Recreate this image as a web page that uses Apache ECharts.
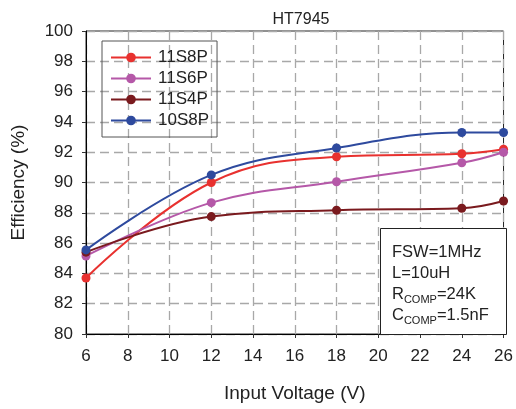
<!DOCTYPE html>
<html>
<head>
<meta charset="utf-8">
<script src="https://cdn.jsdelivr.net/npm/echarts@6/dist/echarts.min.js"></script>
<style>
  html, body { margin: 0; padding: 0; background: #fff; }
  #chart { width: 516px; height: 409px; }
</style>
</head>
<body>
<div id="chart"></div>
<script>
// input voltage points (V)
const voltage = [6, 12, 18, 24, 26];
// efficiency (%) per configuration
const eff11S8P = [83.7, 90.0, 91.7, 91.9, 92.2];
const eff11S6P = [85.15, 88.67, 90.05, 91.3, 92.0];
const eff11S4P = [85.4, 87.75, 88.17, 88.3, 88.78];
const eff10S8P = [85.55, 90.5, 92.28, 93.3, 93.3];

const seriesNames = ["11S8P", "11S6P", "11S4P", "10S8P"];
const seriesColors = ["#e8312f", "#b558a8", "#7a1a1e", "#2e4a9e"];
const seriesData = [eff11S8P, eff11S6P, eff11S4P, eff10S8P];

const chart = echarts.init(document.getElementById("chart"));
const font = "Liberation Sans, Arial, sans-serif";

const option = {
  animation: false,
  title: {
    text: "HT7945",
    left: 296,
    top: 7,
    textAlign: "center",
    textStyle: { fontFamily: font, fontSize: 16, fontWeight: "normal", color: "#222" },
  },
  grid: {
    left: 86,
    right: 10,
    top: 31,
    bottom: 75,
    show: true,
    borderColor: "#222",
    borderWidth: 1,
  },
  legend: {
    orient: "vertical",
    left: 102,
    top: 41,
    padding: [8, 8, 8, 8],
    itemGap: 4,
    itemWidth: 40,
    itemHeight: 12,
    borderColor: "#555",
    borderWidth: 1,
    textStyle: { fontFamily: font, fontSize: 17, color: "#222", padding: [0, 0, 0, 2] },
    data: seriesNames,
  },
  xAxis: {
    type: "value",
    min: 6,
    max: 26,
    interval: 2,
    name: "Input Voltage (V)",
    nameLocation: "middle",
    nameGap: 50,
    nameTextStyle: { fontFamily: font, fontSize: 19, color: "#222" },
    axisLine: { lineStyle: { color: "#000", width: 1 } },
    axisTick: { show: true, length: 4, lineStyle: { color: "#333" } },
    axisLabel: { fontFamily: font, fontSize: 17, color: "#222", margin: 14 },
    splitLine: { show: true, lineStyle: { color: "#a8a8a8", type: [9, 5], width: 1.3 } },
  },
  yAxis: {
    type: "value",
    min: 80,
    max: 100,
    interval: 2,
    name: "Efficiency (%)",
    nameLocation: "middle",
    nameGap: 58,
    nameTextStyle: { fontFamily: font, fontSize: 19, color: "#222" },
    axisLine: { show: true, lineStyle: { color: "#000", width: 1 } },
    axisTick: { show: true, length: 4, lineStyle: { color: "#333" } },
    axisLabel: { fontFamily: font, fontSize: 17, color: "#222", margin: 13 },
    splitLine: { show: true, lineStyle: { color: "#a8a8a8", type: [9, 5], width: 1.3 } },
  },
  series: seriesNames.map((name, i) => ({
    name: name,
    type: "line",
    smooth: 0.4,
    symbol: "circle",
    symbolSize: 9,
    color: seriesColors[i],
    lineStyle: { width: 2 },
    data: voltage.map((v, j) => [v, seriesData[i][j]]),
  })),
  graphic: [
    {
      type: "rect",
      left: 380,
      top: 228,
      shape: { width: 126, height: 106 },
      style: { fill: "#fff", stroke: "#222", lineWidth: 1 },
      z: 100,
    },
    {
      type: "text",
      left: 392,
      top: 242,
      z: 101,
      style: {
        text: "FSW=1MHz\nL=10uH\n{m|R}{s|COMP}{m|=24K}\n{m|C}{s|COMP}{m|=1.5nF}",
        fontFamily: font,
        fontSize: 16.5,
        lineHeight: 21,
        fill: "#222",
        rich: {
          m: { fontFamily: font, fontSize: 16.5, lineHeight: 21, fill: "#222" },
          s: { fontFamily: font, fontSize: 11, lineHeight: 21, fill: "#222", padding: [10, 0, 0, 0] },
        },
      },
    },
  ],
};

chart.setOption(option);
</script>
</body>
</html>
